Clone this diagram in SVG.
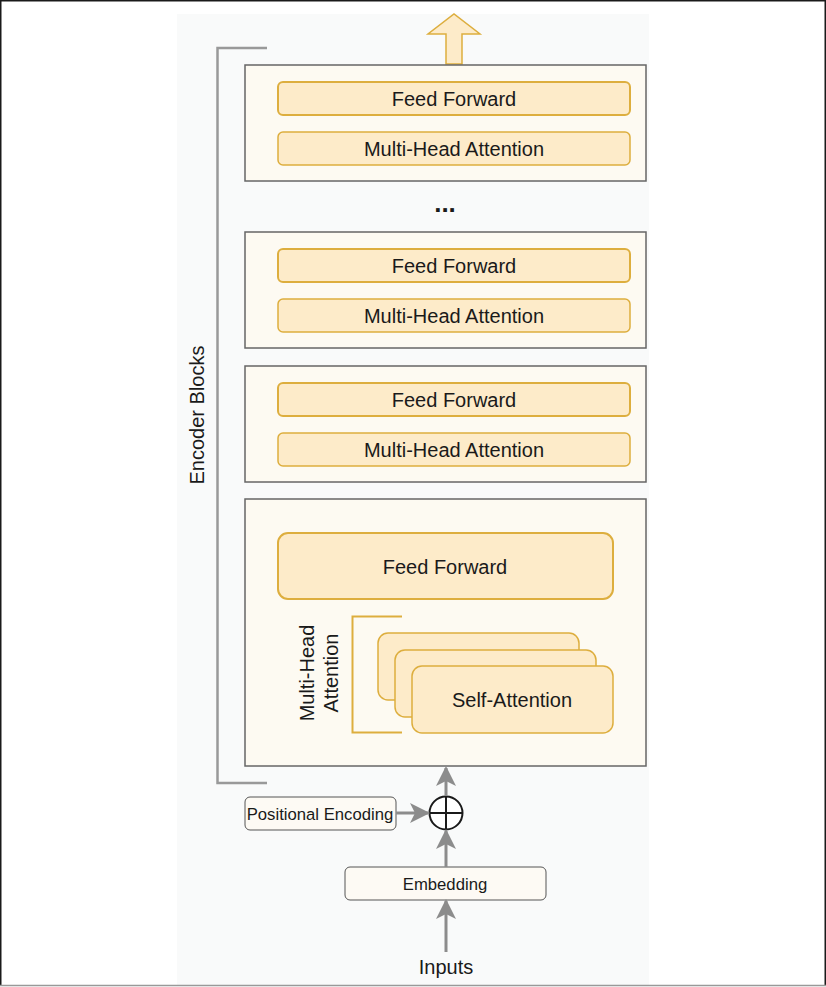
<svg xmlns="http://www.w3.org/2000/svg" width="826" height="987" viewBox="0 0 826 987">
<defs>
<style>
text{font-family:"Liberation Sans",Arial,sans-serif;fill:#1a1a1a;text-anchor:middle;dominant-baseline:central}
.blk{fill:#fdfaf2;stroke:#666;stroke-width:1.5}
.in{fill:#fdebc9;stroke:#ddae3e;stroke-width:2}
.sa{fill:#fdebc9;stroke:#ddae3e;stroke-width:1.5}
.wb{fill:#fdfaf4;stroke:#555;stroke-width:1}
.con{stroke:#8c8c8c;stroke-width:3;fill:none}
</style>
<marker id="ah" viewBox="0 0 20 20" refX="18" refY="10" markerWidth="20" markerHeight="20" markerUnits="userSpaceOnUse" orient="auto">
<path d="M0,0 L20,10 L0,20 L5,10 Z" fill="#8c8c8c"/>
</marker>
</defs>
<rect x="0" y="0" width="826" height="987" fill="#fff"/>
<rect x="177" y="14" width="472" height="972" fill="#f9fafa"/>
<path d="M0.75,986 V0.75 H825.25 V986" fill="none" stroke="#1a1a1a" stroke-width="1.5"/>
<line x1="0" y1="985.5" x2="826" y2="985.5" stroke="#999" stroke-width="1.5"/>

<g id="encoder-bracket">
<path d="M267,48 H217.5 V783 H267" fill="none" stroke="#999" stroke-width="2.5"/>
<text x="197" y="415" font-size="20" transform="rotate(-90 197 415)">Encoder Blocks</text>
</g>

<g id="output-arrow">
<path d="M446,64 V34 H428 L454,14 L480,34 H462 V64 Z" fill="#fdebc9" stroke="#ddae3e" stroke-width="1.5"/>
</g>

<g id="block-top">
<rect class="blk" x="245" y="65" width="401" height="116"/>
<rect class="in" x="278" y="82" width="352" height="33" rx="5"/>
<text x="454" y="99" font-size="20">Feed Forward</text>
<rect class="sa" x="278" y="132" width="352" height="33" rx="5"/>
<text x="454" y="149" font-size="20">Multi-Head Attention</text>
</g>

<g id="ellipsis">
<text x="445" y="203" font-size="26" font-weight="bold">...</text>
</g>

<g id="block-2">
<rect class="blk" x="245" y="232" width="401" height="116"/>
<rect class="in" x="278" y="249" width="352" height="33" rx="5"/>
<text x="454" y="266" font-size="20">Feed Forward</text>
<rect class="sa" x="278" y="299" width="352" height="33" rx="5"/>
<text x="454" y="316" font-size="20">Multi-Head Attention</text>
</g>

<g id="block-3">
<rect class="blk" x="245" y="366" width="401" height="116"/>
<rect class="in" x="278" y="383" width="352" height="33" rx="5"/>
<text x="454" y="400" font-size="20">Feed Forward</text>
<rect class="sa" x="278" y="433" width="352" height="33" rx="5"/>
<text x="454" y="450" font-size="20">Multi-Head Attention</text>
</g>

<g id="block-1">
<rect class="blk" x="245" y="499" width="401" height="267"/>
<rect class="in" x="278" y="533" width="335" height="66" rx="10"/>
<text x="445" y="567" font-size="20">Feed Forward</text>
<path d="M402,616.5 H352.5 V732.5 H402" fill="none" stroke="#ddae3e" stroke-width="2"/>
<text font-size="20" transform="rotate(-90 319 673)"><tspan x="319" y="661">Multi-Head</tspan><tspan x="319" y="685">Attention</tspan></text>
<rect class="sa" x="378" y="633" width="201" height="67" rx="10"/>
<rect class="sa" x="395" y="650" width="201" height="67" rx="10"/>
<rect class="sa" x="412" y="666" width="201" height="67" rx="10"/>
<text x="512" y="700" font-size="20">Self-Attention</text>
</g>

<g id="positional-encoding">
<rect class="wb" x="245" y="797" width="151" height="33" rx="5"/>
<text x="320" y="814" font-size="16.7">Positional Encoding</text>
</g>

<g id="add">
<circle cx="446" cy="813" r="16.5" fill="#fff" stroke="#1a1a1a" stroke-width="2"/>
<path d="M446,796.5 V829.5 M429.5,813 H462.5" stroke="#1a1a1a" stroke-width="2"/>
</g>

<g id="embedding">
<rect class="wb" x="345" y="867" width="201" height="33" rx="5"/>
<text x="445" y="884" font-size="16.7">Embedding</text>
</g>

<g id="inputs">
<text x="446" y="967" font-size="20">Inputs</text>
</g>

<g id="connectors">
<line class="con" x1="446" y1="796" x2="446" y2="768" marker-end="url(#ah)"/>
<line class="con" x1="396" y1="813" x2="428" y2="813" marker-end="url(#ah)"/>
<line class="con" x1="446" y1="867" x2="446" y2="831" marker-end="url(#ah)"/>
<line class="con" x1="446" y1="952" x2="446" y2="901" marker-end="url(#ah)"/>
</g>
</svg>
